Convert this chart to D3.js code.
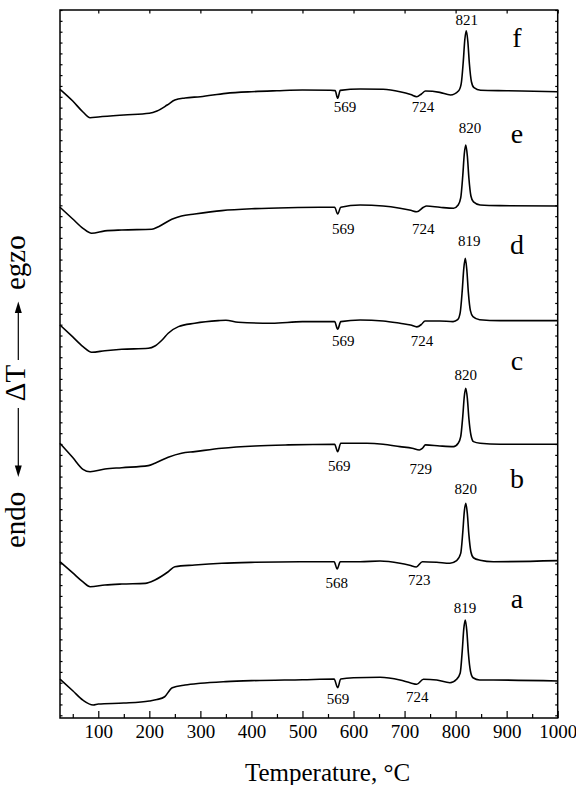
<!DOCTYPE html>
<html>
<head>
<meta charset="utf-8">
<script src="https://cdn.jsdelivr.net/npm/d3@7"></script>
<style>
  html, body { margin: 0; padding: 0; background: #fff; }
  svg { display: block; }
  text { font-family: "Liberation Serif", "Times New Roman", serif; fill: #000; }
</style>
</head>
<body>
<svg id="chart" width="576" height="785"></svg>
<script>
// ---- DTA curves (ΔT, arbitrary units), traces a..f, each shifted by its own offset ----
const curveIds = ["a", "b", "c", "d", "e", "f"];
const offsets  = [31.6, 142.0, 249.8, 363.7, 469.4, 574.7];

const tempA = [25, 50, 70, 90, 100, 150, 200, 215, 230, 245, 270, 300, 350, 400, 500, 562, 569, 575, 600, 652, 691, 712, 724, 737, 763, 789, 802, 809, 813, 816, 819, 822, 825, 829, 834, 847, 874, 1000];
const dtaA  = [1.8, -9.0, -17.7, -22.1, -21.2, -20.3, -18.4, -17.1, -14.5, -6.2, -3.7, -2.1, -0.6, 0.3, 1.2, 1.8, -6.2, 1.8, 3.0, 3.4, 0.9, -1.8, -3.0, 1.6, 0.9, -1.6, 1.6, 7.4, 27.7, 48.0, 56.2, 46.0, 25.8, 9.2, 3.0, 0.9, 0.9, 0.0];

const tempB = [25, 50, 70, 84, 113, 146, 192, 211, 237, 250, 289, 342, 407, 495, 562, 568, 574, 613, 652, 691, 710, 723, 735, 763, 789, 802, 810, 814, 817, 820, 823, 826, 830, 835, 848, 874, 1000];
const dtaB  = [-0.5, -10.8, -19.1, -23.5, -21.9, -21.0, -20.4, -17.3, -9.7, -5.1, -3.5, -1.9, -1.0, -0.5, -0.5, -7.2, -0.5, -0.5, 0.2, -1.9, -3.8, -5.3, -0.5, -1.0, -1.9, 0.5, 7.2, 26.3, 45.5, 53.4, 43.7, 24.5, 8.7, 3.2, 0.9, -0.5, 0.5];

const tempC = [25, 50, 70, 84, 113, 146, 198, 211, 237, 263, 289, 342, 407, 472, 563, 569, 575, 626, 658, 691, 715, 729, 735, 741, 769, 796, 805, 810, 814, 817, 820, 823, 826, 830, 835, 848, 887, 1000];
const dtaC  = [0.9, -12.3, -23.1, -25.3, -22.8, -21.6, -19.7, -17.5, -12.0, -8.3, -6.8, -3.7, -1.6, -0.6, 0.0, -6.8, 0.9, 0.9, 0.0, -2.2, -3.7, -5.3, -3.7, -0.6, -1.6, -2.2, 0.9, 7.0, 25.5, 44.0, 51.6, 42.3, 23.7, 8.5, 2.4, 0.9, 0.0, 0.0];

const tempD = [25, 50, 70, 87, 113, 146, 198, 211, 225, 237, 257, 289, 335, 350, 374, 440, 500, 563, 569, 575, 613, 658, 691, 712, 724, 733, 740, 769, 795, 804, 809, 813, 816, 819, 822, 825, 829, 834, 847, 887, 1000];
const dtaD  = [-4.0, -15.0, -23.9, -29.1, -27.7, -26.4, -25.4, -23.3, -17.8, -11.6, -5.5, -2.4, 0.0, 0.4, -1.5, -2.4, -0.9, -0.9, -7.9, -0.9, 0.6, -0.3, -2.4, -4.0, -5.7, -3.5, -0.3, -0.3, -0.9, 0.9, 7.4, 27.7, 48.0, 57.5, 46.7, 25.8, 9.2, 3.7, 0.9, 0.0, 0.0];

const tempE = [25, 50, 70, 87, 113, 146, 205, 218, 244, 263, 289, 342, 407, 472, 534, 563, 569, 575, 613, 658, 691, 712, 724, 737, 743, 769, 796, 805, 810, 814, 817, 820, 823, 826, 830, 835, 848, 887, 1000];
const dtaE  = [-1.2, -12.0, -20.6, -25.2, -23.0, -22.1, -21.5, -19.1, -12.3, -9.2, -7.4, -4.3, -2.5, -1.6, -1.2, -1.2, -7.4, -1.2, 0.9, 0.0, -2.1, -4.0, -5.3, -1.2, 0.0, -1.2, -2.1, 0.9, 7.4, 27.7, 47.9, 56.2, 46.0, 25.8, 9.2, 3.7, 0.9, 0.3, 0.0];

const tempF = [25, 50, 70, 84, 100, 150, 200, 215, 235, 250, 270, 300, 350, 400, 450, 500, 555, 564, 569, 574, 613, 658, 691, 712, 724, 733, 741, 769, 790, 806, 811, 815, 818, 821, 824, 827, 831, 836, 849, 900, 1000];
const dtaF  = [2.2, -8.6, -18.7, -24.0, -23.3, -21.5, -19.9, -17.8, -12.3, -7.7, -5.8, -4.6, -1.5, 0.0, 0.9, 1.6, 1.3, 1.0, -6.1, 1.2, 2.5, 2.2, 0.0, -2.6, -4.6, -2.1, 0.6, -0.6, -3.0, 0.9, 7.4, 27.7, 47.9, 56.2, 46.0, 25.8, 9.2, 3.7, 1.4, 0.9, 0.0];

// annotated temperatures (°C) for each trace a..f
const peakT   = [819, 820, 820, 819, 820, 821];
const quartzT = [569, 568, 569, 569, 569, 569];
const dipT    = [724, 723, 729, 724, 724, 724];

// axis ticks
const xMajor = [100, 200, 300, 400, 500, 600, 700, 800, 900, 1000];
const xMinor = [50, 150, 250, 350, 450, 550, 650, 750, 850, 950];
const yTicks = d3.range(0, 651, 10);

// ---- layout ----
const W = 576, H = 785;
const plot = { left: 60, right: 557.7, top: 10, bottom: 718 };

// per-trace label placement (px): nudges and distances from the trace
const peakLabelDx   = [-0.3, 0, 0, 4, 4.2, 0.4];
const peakLabelRise = [7.5, 9.1, 8.1, 12.4, 11.5, 5.5];
const quartzDx      = [0.3, -0.5, 1.6, 5.6, 5.6, 7.3];
const quartzDrop    = [23.2, 27.2, 26.9, 25.2, 28.5, 20.5];
const dipDx         = [0.5, 3, 1.4, 5.2, 6.5, 6.2];
const dipDrop       = [21.5, 24, 29.9, 25.2, 28.5, 20.5];
const letterRise    = [73, 73, 74, 67, 63, 45];

const svg = d3.select("#chart");

const x = d3.scaleLinear().domain([25, 1000]).range([plot.left, plot.right]);
const y = d3.scaleLinear().domain([-2.5, 650]).range([plot.bottom, plot.top]);

const temps = [tempA, tempB, tempC, tempD, tempE, tempF];
const dtas  = [dtaA, dtaB, dtaC, dtaD, dtaE, dtaF];
const series = curveIds.map((id, i) => ({
  id,
  offset: offsets[i],
  points: temps[i].map((t, j) => ({ t, v: dtas[i][j] + offsets[i] }))
}));

// ---- axes (ticks point inward) ----
const axisStyle = g => {
  g.select(".domain").remove();
  g.selectAll(".tick line").attr("stroke", "#000").attr("stroke-width", 1.2);
};

svg.append("g")
  .attr("transform", `translate(0,${plot.bottom})`)
  .call(d3.axisBottom(x).tickValues(xMajor).tickSize(-7).tickPadding(6.5).tickFormat(d3.format("d")))
  .call(axisStyle)
  .call(g => g.selectAll(".tick text")
    .attr("font-size", 19)
    .attr("font-family", '"Liberation Serif", "Times New Roman", serif')
    .attr("fill", "#000"));

svg.append("g")
  .attr("transform", `translate(0,${plot.bottom})`)
  .call(d3.axisBottom(x).tickValues(xMinor).tickSize(-4).tickFormat(""))
  .call(axisStyle);

svg.append("g")
  .attr("transform", `translate(0,${plot.top})`)
  .call(d3.axisTop(x).tickValues(xMajor).tickSize(-3.5).tickFormat(""))
  .call(axisStyle);

svg.append("g")
  .attr("transform", `translate(${plot.left},0)`)
  .call(d3.axisLeft(y).tickValues(yTicks).tickSize(-2.5).tickFormat(""))
  .call(axisStyle);

svg.append("g")
  .attr("transform", `translate(${plot.right},0)`)
  .call(d3.axisRight(y).tickValues(yTicks).tickSize(-2.5).tickFormat(""))
  .call(axisStyle);

// frame
svg.append("rect")
  .attr("x", plot.left).attr("y", plot.top)
  .attr("width", plot.right - plot.left).attr("height", plot.bottom - plot.top)
  .attr("fill", "none").attr("stroke", "#000").attr("stroke-width", 1.5);

// ---- curves ----
const line = d3.line()
  .x(d => x(d.t))
  .y(d => y(d.v))
  .curve(d3.curveMonotoneX);

svg.append("g")
  .selectAll("path")
  .data(series)
  .join("path")
  .attr("d", d => line(d.points))
  .attr("fill", "none")
  .attr("stroke", "#000")
  .attr("stroke-width", 1.6)
  .attr("stroke-linejoin", "round");

// ---- annotations ----
const ann = svg.append("g").attr("font-size", 15);

series.forEach((s, i) => {
  const top = d3.max(s.points, p => p.v);
  ann.append("text")
    .attr("x", x(peakT[i]) + peakLabelDx[i])
    .attr("y", y(top) - peakLabelRise[i])
    .attr("text-anchor", "middle")
    .text(peakT[i]);

  ann.append("text")
    .attr("x", x(quartzT[i]) + quartzDx[i])
    .attr("y", y(s.offset) + quartzDrop[i])
    .attr("text-anchor", "middle")
    .text(quartzT[i]);

  ann.append("text")
    .attr("x", x(dipT[i]) + dipDx[i])
    .attr("y", y(s.offset) + dipDrop[i])
    .attr("text-anchor", "middle")
    .text(dipT[i]);

  svg.append("text")
    .attr("x", 517)
    .attr("y", y(s.offset) - letterRise[i])
    .attr("text-anchor", "middle")
    .attr("font-size", 28)
    .text(s.id);
});

// ---- axis titles ----
svg.append("text")
  .attr("x", 327.5).attr("y", 781)
  .attr("text-anchor", "middle")
  .attr("font-size", 25)
  .text("Temperature, °C");

// vertical title: endo ← ΔT → egzo
const yt = svg.append("g").attr("transform", "translate(25,0) rotate(-90)").attr("font-size", 29);
yt.append("text").attr("x", -548).attr("y", 0).attr("text-anchor", "start").text("endo");
yt.append("text").attr("x", -383).attr("y", 0).attr("text-anchor", "middle").text("ΔT");
yt.append("text").attr("x", -290).attr("y", 0).attr("text-anchor", "start").text("egzo");

const ax = 18.3;
const arrows = svg.append("g").attr("stroke", "#000").attr("stroke-width", 1.2);
arrows.append("line").attr("x1", ax).attr("x2", ax).attr("y1", 360).attr("y2", 310);
arrows.append("line").attr("x1", ax).attr("x2", ax).attr("y1", 408).attr("y2", 468);
svg.append("path")
  .attr("d", `M${ax},301.5 L${ax - 3.5},313 L${ax + 3.5},313 Z`)
  .attr("fill", "#000");
svg.append("path")
  .attr("d", `M${ax},477 L${ax - 3.5},465.5 L${ax + 3.5},465.5 Z`)
  .attr("fill", "#000");
</script>
</body>
</html>
